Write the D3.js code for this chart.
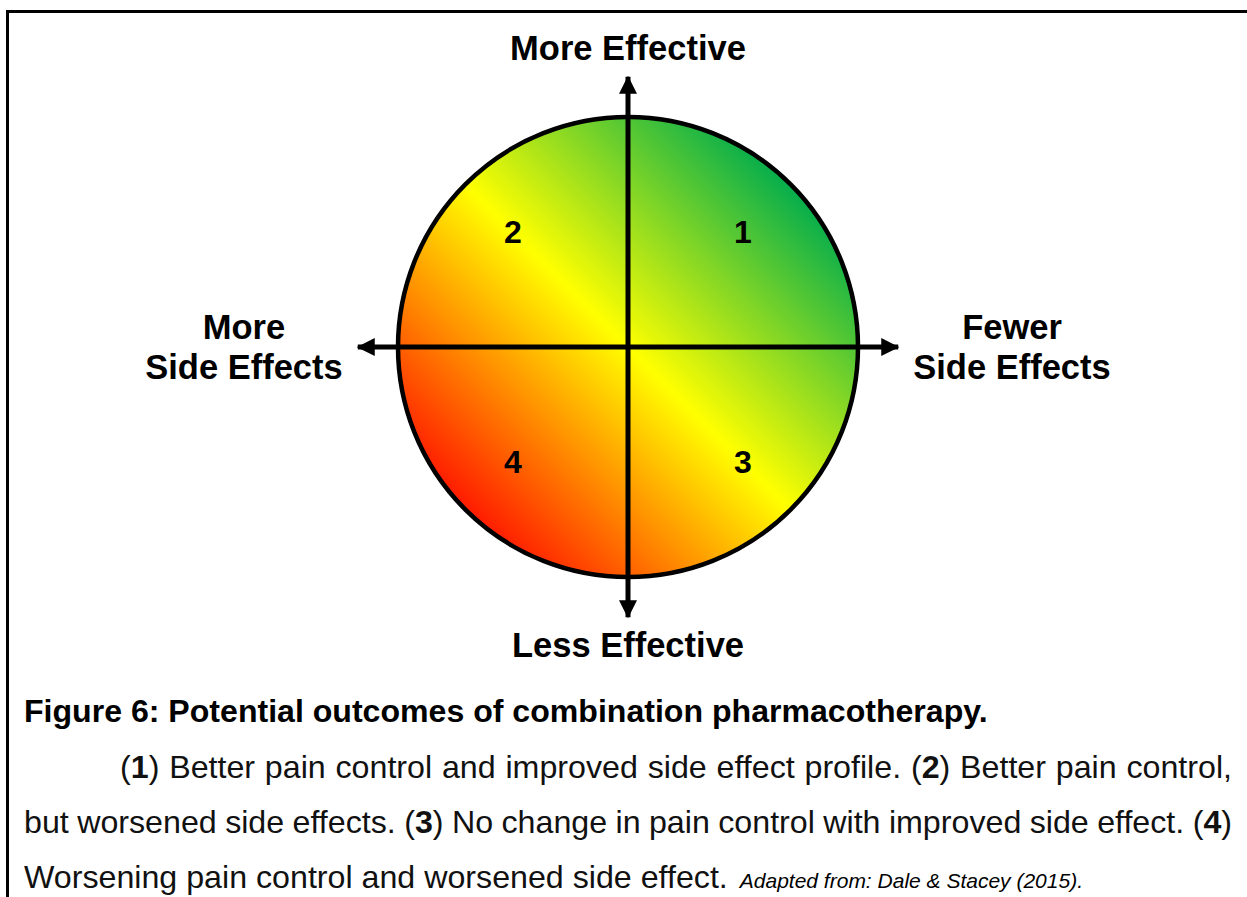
<!DOCTYPE html>
<html>
<head>
<meta charset="utf-8">
<script src="https://cdn.jsdelivr.net/npm/d3@7"></script>
<style>
  body { margin: 0; background: #fff; }
  svg { display: block; font-family: "Liberation Sans", Arial, Helvetica, sans-serif; }
</style>
</head>
<body>
<svg id="chart"></svg>
<script>
// quadrant numbers and where they sit (in axis units, -1..1)
const quadrantLabels = ["1", "2", "3", "4"];
const quadrantX = [0.5, -0.5, 0.5, -0.5];
const quadrantY = [0.5, 0.5, -0.5, -0.5];

// axis end labels
const topLabel = ["More Effective"];
const bottomLabel = ["Less Effective"];
const leftLabel = ["More", "Side Effects"];
const rightLabel = ["Fewer", "Side Effects"];

// colour ramp from worst (bottom-left) to best (top-right)
const rampOffsets = [0.146, 0.5, 0.854];
const rampColors = ["#ff1a00", "#ffff00", "#05ad4c"];

// caption
const captionTitle = "Figure 6: Potential outcomes of combination pharmacotherapy.";
const captionLines = [
  [["(", false], ["1", true], [") Better pain control and improved side effect profile. (", false], ["2", true], [") Better pain control,", false]],
  [["but worsened side effects. (", false], ["3", true], [") No change in pain control with improved side effect. (", false], ["4", true], [")", false]],
  [["Worsening pain control and worsened side effect.", false]]
];
const sourceNote = "Adapted from: Dale & Stacey (2015).";

class QuadrantChart {
  constructor(_config) {
    this.config = {
      parentElement: _config.parentElement,
      containerWidth: _config.containerWidth || 1247,
      containerHeight: _config.containerHeight || 897
    };
    this.initVis();
  }

  initVis() {
    let vis = this;
    vis.cx = 628;
    vis.cy = 347;
    vis.r = 230;

    vis.x = d3.scaleLinear().domain([-1, 1]).range([vis.cx - vis.r, vis.cx + vis.r]);
    vis.y = d3.scaleLinear().domain([-1, 1]).range([vis.cy + vis.r, vis.cy - vis.r]);

    vis.svg = d3.select(vis.config.parentElement)
      .attr('width', vis.config.containerWidth)
      .attr('height', vis.config.containerHeight);

    let defs = vis.svg.append('defs');
    let grad = defs.append('linearGradient')
      .attr('id', 'ramp')
      .attr('x1', 0).attr('y1', 1)
      .attr('x2', 1).attr('y2', 0);
    grad.selectAll('stop')
      .data(rampOffsets)
      .join('stop')
      .attr('offset', d => d)
      .attr('stop-color', (d, i) => rampColors[i]);

    defs.append('marker')
      .attr('id', 'head')
      .attr('markerUnits', 'userSpaceOnUse')
      .attr('viewBox', '0 0 18 18')
      .attr('markerWidth', 18)
      .attr('markerHeight', 18)
      .attr('refX', 17)
      .attr('refY', 9)
      .attr('orient', 'auto')
      .append('path')
      .attr('d', 'M0,0L18,9L0,18Z')
      .attr('fill', '#000');

    // frame
    vis.svg.append('line')
      .attr('x1', 6).attr('x2', vis.config.containerWidth)
      .attr('y1', 11.5).attr('y2', 11.5)
      .attr('stroke', '#000').attr('stroke-width', 3);
    vis.svg.append('line')
      .attr('x1', 7.5).attr('x2', 7.5)
      .attr('y1', 10).attr('y2', vis.config.containerHeight)
      .attr('stroke', '#000').attr('stroke-width', 3);
  }

  renderVis() {
    let vis = this;
    let g = vis.svg.append('g');

    g.append('circle')
      .attr('cx', vis.x(0))
      .attr('cy', vis.y(0))
      .attr('r', vis.x(1) - vis.x(0))
      .attr('fill', 'url(#ramp)')
      .attr('stroke', '#000')
      .attr('stroke-width', 4.5);

    // axes with arrows at both ends
    const ext = 1.175;
    const axes = [
      [[0, 0], [0, ext]], [[0, 0], [0, -ext]],
      [[0, 0], [-ext, 0]], [[0, 0], [ext, 0]]
    ];
    g.selectAll('.axis')
      .data(axes)
      .join('line')
      .attr('class', 'axis')
      .attr('x1', d => vis.x(d[0][0]))
      .attr('y1', d => vis.y(d[0][1]))
      .attr('x2', d => vis.x(d[1][0]))
      .attr('y2', d => vis.y(d[1][1]))
      .attr('stroke', '#000')
      .attr('stroke-width', 5)
      .attr('marker-end', 'url(#head)');

    g.selectAll('.qnum')
      .data(quadrantLabels)
      .join('text')
      .attr('class', 'qnum')
      .attr('x', (d, i) => vis.x(quadrantX[i]))
      .attr('y', (d, i) => vis.y(quadrantY[i]) + 11)
      .attr('text-anchor', 'middle')
      .style('font-size', '32px')
      .style('font-weight', 'bold')
      .text(d => d);

    const addLabel = (lines, x, y) => {
      let t = g.append('text')
        .attr('text-anchor', 'middle')
        .style('font-size', '34.5px')
        .style('font-weight', 'bold');
      lines.forEach((l, i) => {
        t.append('tspan').attr('x', x).attr('y', y + i * 40).text(l);
      });
    };
    addLabel(topLabel, vis.x(0), 60);
    addLabel(bottomLabel, vis.x(0), 657);
    addLabel(leftLabel, 244, 339);
    addLabel(rightLabel, 1012, 339);

    // caption
    vis.svg.append('text')
      .attr('x', 24).attr('y', 722)
      .style('font-size', '32.1px')
      .style('font-weight', 'bold')
      .text(captionTitle);

    const starts = [120, 24, 24];
    const ends = [1232, 1232, null];
    const baselines = [778, 833, 888];
    captionLines.forEach((parts, i) => {
      let t = vis.svg.append('text')
        .attr('x', starts[i]).attr('y', baselines[i])
        .style('font-size', '32.2px')
        .style('fill', '#111');
      parts.forEach(p => {
        t.append('tspan')
          .style('font-weight', p[1] ? 'bold' : 'normal')
          .text(p[0]);
      });
      if (ends[i]) {
        let len = t.node().getComputedTextLength();
        let spaces = parts.map(p => p[0]).join('').split(' ').length - 1;
        t.style('word-spacing', ((ends[i] - starts[i] - len) / spaces) + 'px');
      } else {
        let len = t.node().getComputedTextLength();
        vis.svg.append('text')
          .attr('x', starts[i] + len + 12).attr('y', baselines[i])
          .style('font-size', '21px')
          .style('font-style', 'italic')
          .text(sourceNote);
      }
    });
  }
}

let chart = new QuadrantChart({parentElement: '#chart'});
chart.renderVis();
</script>
</body>
</html>
